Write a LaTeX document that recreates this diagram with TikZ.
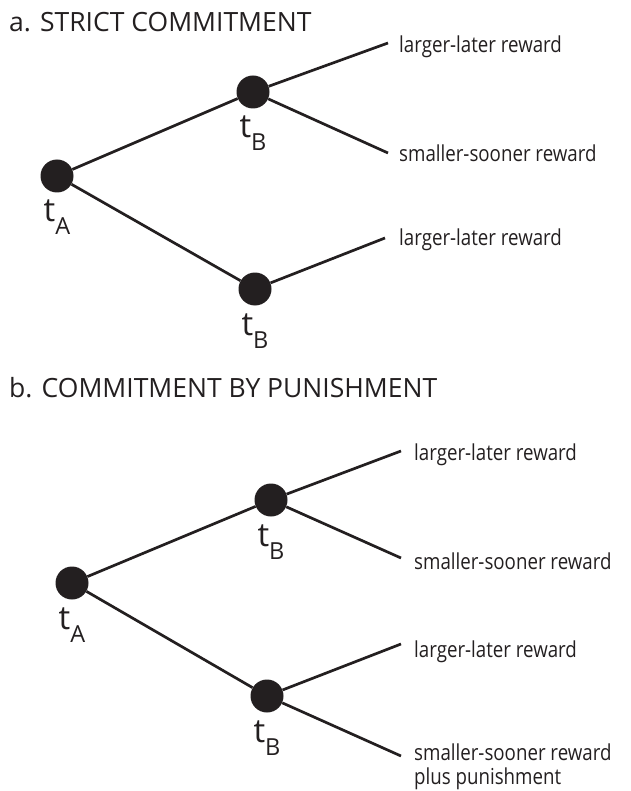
\documentclass[tikz,border=0pt]{standalone}
\usepackage{fontspec}
\setmainfont{Open Sans}
\newfontfamily\narrowsans[FakeStretch=0.85]{Open Sans}
\usetikzlibrary{calc}
\definecolor{ink}{HTML}{231F20}
% time point label: t with a lowered capital subscript
\newcommand{\tpoint}[1]{{\fontsize{33}{33}\selectfont t}\raisebox{-13pt}{\fontsize{23.5}{23.5}\selectfont #1}}
\begin{document}
\begin{tikzpicture}[x=1pt,y=-1pt,
  dot/.style={circle,fill=ink,inner sep=0pt,minimum size=33pt},
  branch/.style={draw=ink,line width=2.7pt},
  outcome/.style={anchor=base west,inner sep=0pt,font=\narrowsans\fontsize{22}{24}\selectfont,text=ink,align=left},
  heading/.style={anchor=base west,inner sep=0pt,font=\fontsize{26.5}{28}\selectfont,text=ink},
  tlabel/.style={anchor=base,inner sep=0pt,text=ink}]
\useasboundingbox (0,0) rectangle (630,791);

% ---- a. strict commitment ----
\node[heading] (ha) at (9,32) {a. STRICT COMMITMENT};
\node[dot] (aA)  at (57,176) {};
\node[dot] (aB1) at (253,92) {};
\node[dot] (aB2) at (255,289) {};
\coordinate (aE1) at (388,43);
\coordinate (aE2) at (388,153);
\coordinate (aE3) at (385,238);
\draw[branch] (aA) -- (aB1);
\draw[branch] (aA) -- (aB2);
\draw[branch] (aB1) -- (aE1);
\draw[branch] (aB1) -- (aE2);
\draw[branch] (aB2) -- (aE3);
\node[outcome] (aL1) at (399,53) {larger-later reward};
\node[outcome] (aL2) at (399,162) {smaller-sooner reward};
\node[outcome] (aL3) at (399,246) {larger-later reward};
\node[tlabel] (atA)  at ($(aA)+(0,46)$)  {\tpoint{A}};
\node[tlabel] (atB1) at ($(aB1)+(0,46)$) {\tpoint{B}};
\node[tlabel] (atB2) at ($(aB2)+(0,46)$) {\tpoint{B}};

% ---- b. commitment by punishment ----
\node[heading] (hb) at (9,397) {b. COMMITMENT BY PUNISHMENT};
\node[dot] (bA)  at (72,583) {};
\node[dot] (bB1) at (271,500) {};
\node[dot] (bB2) at (267,696) {};
\coordinate (bE1) at (401,451);
\coordinate (bE2) at (401,558);
\coordinate (bE3) at (401,644);
\coordinate (bE4) at (401,756);
\draw[branch] (bA) -- (bB1);
\draw[branch] (bA) -- (bB2);
\draw[branch] (bB1) -- (bE1);
\draw[branch] (bB1) -- (bE2);
\draw[branch] (bB2) -- (bE3);
\draw[branch] (bB2) -- (bE4);
\node[outcome] (bL1) at (414,460) {larger-later reward};
\node[outcome] (bL2) at (414,569) {smaller-sooner reward};
\node[outcome] (bL3) at (414,657) {larger-later reward};
\node[outcome] (bL4) at (414,784) {smaller-sooner reward\\plus punishment};
\node[tlabel] (btA)  at ($(bA)+(0,46)$)  {\tpoint{A}};
\node[tlabel] (btB1) at ($(bB1)+(0,46)$) {\tpoint{B}};
\node[tlabel] (btB2) at ($(bB2)+(0,46)$) {\tpoint{B}};
\end{tikzpicture}
\end{document}
